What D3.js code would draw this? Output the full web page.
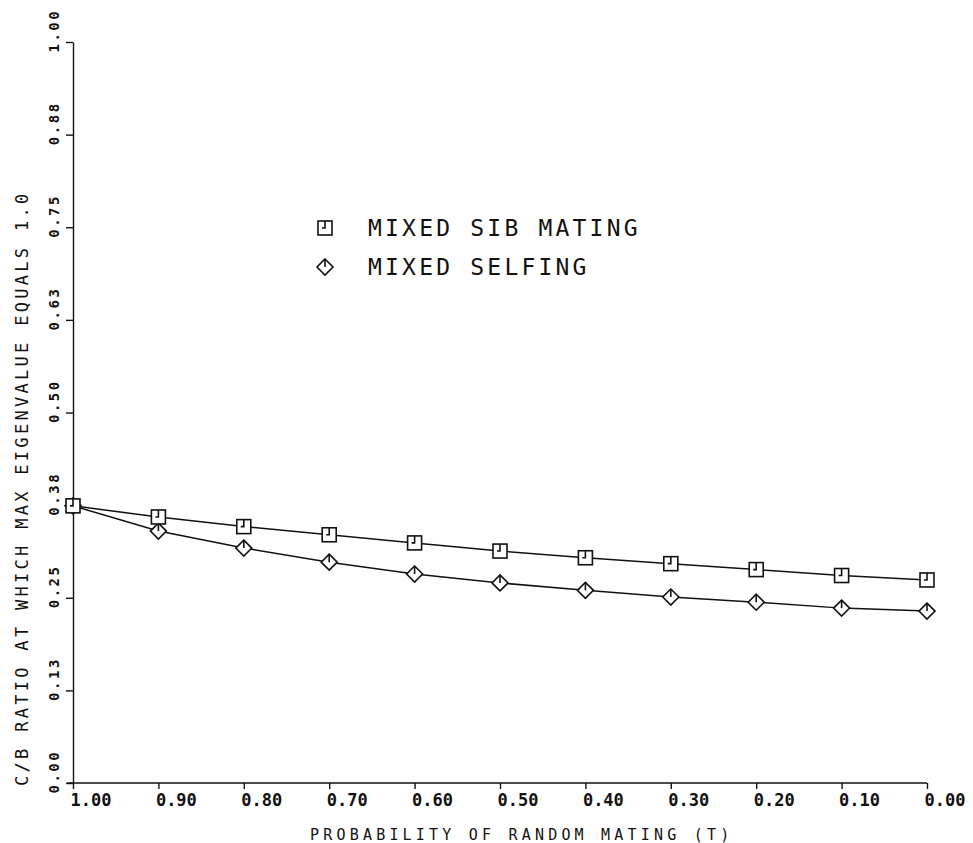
<!DOCTYPE html>
<html>
<head>
<meta charset="utf-8">
<script src="https://cdn.jsdelivr.net/npm/d3@7"></script>
<style>
  html, body { margin: 0; padding: 0; background: #fff; }
  svg { display: block; }
  text { font-family: "DejaVu Sans Mono", "Liberation Mono", monospace; fill: #111; }
</style>
</head>
<body>
<svg id="chart" width="973" height="843"></svg>
<script>
// ---- data ----
const randomMatingT = [1.0, 0.9, 0.8, 0.7, 0.6, 0.5, 0.4, 0.3, 0.2, 0.1, 0.0];
const mixedSibMating = [0.374, 0.359, 0.346, 0.335, 0.324, 0.313, 0.304, 0.296, 0.288, 0.280, 0.274];
const mixedSelfing   = [0.374, 0.340, 0.317, 0.298, 0.282, 0.270, 0.260, 0.251, 0.244, 0.236, 0.232];
const xTickLabels = ["1.00", "0.90", "0.80", "0.70", "0.60", "0.50", "0.40", "0.30", "0.20", "0.10", "0.00"];
const yTickValues = [0, 0.125, 0.25, 0.375, 0.5, 0.625, 0.75, 0.875, 1.0];
const yTickLabels = ["0.00", "0.13", "0.25", "0.38", "0.50", "0.63", "0.75", "0.88", "1.00"];
const seriesNames = ["MIXED SIB MATING", "MIXED SELFING"];
const xTitle = "PROBABILITY OF RANDOM MATING (T)";
const yTitle = "C/B RATIO AT WHICH MAX EIGENVALUE EQUALS 1.0";

// ---- layout ----
const svg = d3.select("#chart");
const x = d3.scaleLinear().domain([1, 0]).range([73, 927]);
const y = d3.scaleLinear().domain([0, 1]).range([783, 42]);
const ink = "#111";

// x axis
const xAxis = svg.append("g")
  .attr("transform", `translate(0,${y(0)})`)
  .call(d3.axisBottom(x)
    .tickValues(randomMatingT)
    .tickFormat((d, i) => xTickLabels[i])
    .tickSize(6)
    .tickSizeOuter(0));
xAxis.select(".domain").attr("stroke", ink).attr("stroke-width", 1.4)
  .attr("d", `M${x(1) - 6},0H${x(0)}`);
xAxis.selectAll(".tick line").attr("stroke", ink).attr("stroke-width", 1.4);
xAxis.selectAll(".tick text")
  .attr("text-anchor", "start")
  .attr("x", -3).attr("y", 23).attr("dy", 0)
  .style("font-size", "17px").style("font-weight", "bold");

// y axis
const yAxis = svg.append("g")
  .attr("transform", `translate(${x(1)},0)`)
  .call(d3.axisLeft(y)
    .tickValues(yTickValues)
    .tickFormat((d, i) => yTickLabels[i])
    .tickSize(7)
    .tickSizeOuter(0));
yAxis.select(".domain").attr("stroke", ink).attr("stroke-width", 1.4);
yAxis.selectAll(".tick line").attr("stroke", ink).attr("stroke-width", 1.4);
yAxis.selectAll(".tick text")
  .attr("x", null).attr("dy", null)
  .attr("text-anchor", "start")
  .attr("transform", "translate(-14,10) rotate(-90)")
  .style("font-size", "14px").style("font-weight", "bold")
  .style("letter-spacing", "2.5px");

// axis titles
svg.append("text")
  .attr("x", 310).attr("y", 840)
  .style("font-size", "15px").style("letter-spacing", "4.2px")
  .text(xTitle);
svg.append("text")
  .attr("transform", "translate(28,786) rotate(-90)")
  .attr("text-anchor", "start")
  .style("font-size", "17px").style("letter-spacing", "3.3px")
  .text(yTitle);

// lines
const line = d3.line().x((d, i) => x(randomMatingT[i])).y(d => y(d));
[mixedSibMating, mixedSelfing].forEach(s => {
  svg.append("path").datum(s)
    .attr("d", line)
    .attr("fill", "none").attr("stroke", ink).attr("stroke-width", 1.5);
});

// markers
function square(g, cx, cy) {
  const h = 7;
  g.append("rect").attr("x", cx - h).attr("y", cy - h).attr("width", 2 * h).attr("height", 2 * h)
    .attr("fill", "#fff").attr("stroke", ink).attr("stroke-width", 1.6);
  g.append("path").attr("d", `M${cx},${cy - h}V${cy}H${cx - 3}`)
    .attr("fill", "none").attr("stroke", ink).attr("stroke-width", 1.6);
}
function diamond(g, cx, cy) {
  const h = 8;
  g.append("path").attr("d", `M${cx},${cy - h}L${cx + h},${cy}L${cx},${cy + h}L${cx - h},${cy}Z`)
    .attr("fill", "#fff").attr("stroke", ink).attr("stroke-width", 1.6);
  g.append("path").attr("d", `M${cx},${cy - h}V${cy}`)
    .attr("fill", "none").attr("stroke", ink).attr("stroke-width", 1.6);
}
const mk = svg.append("g");
mixedSelfing.forEach((v, i) => diamond(mk, x(randomMatingT[i]), y(v)));
mixedSibMating.forEach((v, i) => square(mk, x(randomMatingT[i]), y(v)));

// legend
const lg = svg.append("g");
square(lg, 325, 228);
diamond(lg, 325, 267);
lg.append("text").attr("x", 368).attr("y", 236)
  .style("font-size", "23px").style("letter-spacing", "3.2px").text(seriesNames[0]);
lg.append("text").attr("x", 368).attr("y", 275)
  .style("font-size", "23px").style("letter-spacing", "3.2px").text(seriesNames[1]);
</script>
</body>
</html>
